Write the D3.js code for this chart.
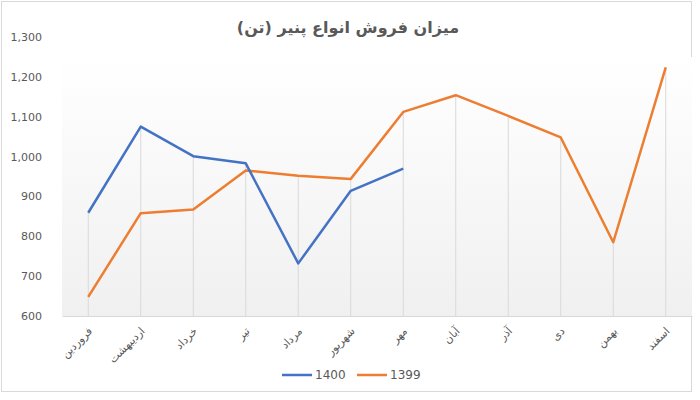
<!DOCTYPE html>
<html lang="fa">
<head>
<meta charset="utf-8">
<title>میزان فروش انواع پنیر</title>
<script src="https://d3js.org/d3.v7.min.js"></script>
<style>
  body { margin: 0; background: #fff; }
  svg text { font-family: "DejaVu Sans", sans-serif; }
</style>
</head>
<body>
<script>
// months (Persian calendar)
var months = ["فروردین", "اردیبهشت", "خرداد", "تیر", "مرداد", "شهریور", "مهر", "آبان", "آذر", "دی", "بهمن", "اسفند"];
// sales in tonnes
var sales1400 = [859, 1075, 1001, 983, 732, 914, 970];
var sales1399 = [648, 858, 867, 965, 952, 944, 1112, 1154, 1102, 1048, 785, 1224];
var yTicks = [600, 700, 800, 900, 1000, 1100, 1200, 1300];

var w = 700, h = 400;
var plot = {left: 62, right: 692, top: 37, bottom: 316};

var svg = d3.select("body").append("svg")
  .attr("width", w)
  .attr("height", h);

// chart frame
svg.append("rect")
  .attr("x", 1.5).attr("y", 1.5)
  .attr("width", 690).attr("height", 390)
  .attr("fill", "#fff")
  .attr("stroke", "#d9d9d9");

var grad = svg.append("defs").append("linearGradient")
  .attr("id", "plotbg")
  .attr("x1", 0).attr("y1", 0).attr("x2", 0).attr("y2", 1);
grad.append("stop").attr("offset", "0%").attr("stop-color", "#ffffff");
grad.append("stop").attr("offset", "100%").attr("stop-color", "#f0f0f0");

svg.append("rect")
  .attr("x", plot.left).attr("y", plot.top + 20)
  .attr("width", plot.right - plot.left)
  .attr("height", plot.bottom - plot.top - 20)
  .attr("fill", "url(#plotbg)");

var x = d3.scaleBand()
  .domain(months)
  .range([plot.left, plot.right]);

var y = d3.scaleLinear()
  .domain([600, 1300])
  .range([plot.bottom, plot.top]);

var cx = function(m) { return x(m) + x.bandwidth() / 2; };

// drop lines: from the highest value of each month down to the axis
var topValue = months.map(function(m, i) {
  return d3.max([sales1399[i], sales1400[i]].filter(function(v) { return v != null; }));
});

svg.append("g")
  .selectAll("line")
  .data(months)
  .enter().append("line")
  .attr("x1", cx).attr("x2", cx)
  .attr("y1", function(d, i) { return y(topValue[i]); })
  .attr("y2", plot.bottom)
  .attr("stroke", "#d9d9d9")
  .attr("stroke-width", 1);

// y axis
var yAxis = svg.append("g")
  .attr("transform", "translate(" + plot.left + ",0)")
  .call(d3.axisLeft(y).tickValues(yTicks).tickFormat(d3.format(",")).tickSize(0).tickPadding(20));
yAxis.select(".domain").remove();
yAxis.selectAll("text")
  .attr("fill", "#595959")
  .style("font-size", "11px");

// x axis
var xAxis = svg.append("g")
  .attr("transform", "translate(0," + plot.bottom + ")")
  .call(d3.axisBottom(x).tickSize(0));
xAxis.select(".domain").attr("stroke", "#d9d9d9");
xAxis.selectAll("text")
  .attr("fill", "#595959")
  .style("font-size", "11px")
  .attr("text-anchor", "end")
  .attr("transform", "translate(2,13) rotate(-45)")
  .attr("dy", "0.35em")
  .attr("y", 0);

var line = d3.line()
  .x(function(d, i) { return cx(months[i]); })
  .y(function(d) { return y(d); });

svg.append("path")
  .datum(sales1399)
  .attr("d", line)
  .attr("fill", "none")
  .attr("stroke", "#ED7D31")
  .attr("stroke-width", 2.5)
  .attr("stroke-linejoin", "round");

svg.append("path")
  .datum(sales1400)
  .attr("d", line)
  .attr("fill", "none")
  .attr("stroke", "#4472C4")
  .attr("stroke-width", 2.5)
  .attr("stroke-linejoin", "round");

// title
svg.append("text")
  .attr("x", 348)
  .attr("y", 33)
  .attr("text-anchor", "middle")
  .attr("font-weight", "bold")
  .attr("fill", "#595959")
  .style("font-size", "16px")
  .text("میزان فروش انواع پنیر (تن)");

// legend
var legendItems = [
  {name: "1400", color: "#4472C4", x: 282},
  {name: "1399", color: "#ED7D31", x: 357}
];
var legend = svg.selectAll(".legend")
  .data(legendItems)
  .enter().append("g")
  .attr("class", "legend")
  .attr("transform", function(d) { return "translate(" + d.x + ",375)"; });
legend.append("line")
  .attr("x1", 0).attr("x2", 30)
  .attr("stroke", function(d) { return d.color; })
  .attr("stroke-width", 2.5);
legend.append("text")
  .attr("x", 33)
  .attr("dy", "0.35em")
  .attr("fill", "#595959")
  .style("font-size", "12px")
  .text(function(d) { return d.name; });
</script>
</body>
</html>
